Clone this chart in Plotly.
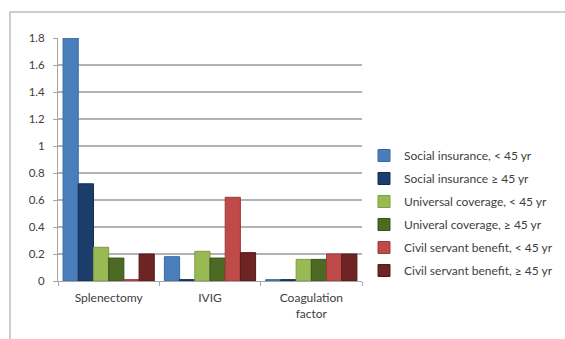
import plotly.graph_objects as go

categories = ["Splenectomy", "IVIG", "Coagulation<br>factor"]
series_names = [
    "Social insurance, < 45 yr",
    "Social insurance ≥ 45 yr",
    "Universal coverage, < 45 yr",
    "Univeral coverage, ≥ 45 yr",
    "Civil servant benefit, < 45 yr",
    "Civil servant benefit, ≥ 45 yr",
]
social_lt45 = [1.80, 0.18, 0.01]
social_ge45 = [0.72, 0.01, 0.01]
universal_lt45 = [0.25, 0.22, 0.16]
universal_ge45 = [0.17, 0.17, 0.16]
civil_lt45 = [0.01, 0.62, 0.20]
civil_ge45 = [0.20, 0.21, 0.20]
y_ticks = [0, 0.2, 0.4, 0.6, 0.8, 1, 1.2, 1.4, 1.6, 1.8]

series_values = [social_lt45, social_ge45, universal_lt45,
                 universal_ge45, civil_lt45, civil_ge45]
colors = ["#4a7ebb", "#1c3d6a", "#98b954", "#4d6a25", "#be4b48", "#6e2423"]
edges = ["#3a6aa3", "#122c50", "#7f9c42", "#3b521b", "#9e3a38", "#541a19"]

W, H = 565, 339
L, R, T, B = 58, 203, 38, 58
pw, ph = W - L - R, H - T - B

fig = go.Figure()
for name, vals, c, e in zip(series_names, series_values, colors, edges):
    fig.add_trace(go.Bar(
        x=categories, y=vals, name=name, legendgroup=name,
        marker=dict(color=c, line=dict(color=e, width=1)),
    ))

def px_x(p):
    return (p - L) / pw

def px_y(p):
    return (H - B - p) / ph

fig.update_layout(
    width=W, height=H,
    margin=dict(l=L, r=R, t=T, b=B, autoexpand=False),
    paper_bgcolor="white", plot_bgcolor="white",
    font=dict(family="Lato, 'Open Sans', sans-serif", size=11, color="#404040"),
    barmode="group", bargap=0.1, bargroupgap=0.0,
    showlegend=True,
    legend=dict(
        x=px_x(364), xanchor="left", y=px_y(213), yanchor="middle",
        font=dict(size=12, color="#404040"),
        tracegroupgap=4, itemwidth=30,
        bgcolor="rgba(0,0,0,0)",
    ),
    xaxis=dict(
        showgrid=False, showline=True, linecolor="#a6a6a6", linewidth=1,
        ticks="outside", ticklen=4, tickcolor="#a6a6a6", tickson="boundaries",
        ticklabelstandoff=6,
        tickfont=dict(size=12, color="#404040"),
    ),
    yaxis=dict(
        range=[0, 1.8], tickvals=y_ticks,
        ticktext=[f"{v:g}" for v in y_ticks],
        showgrid=True, gridcolor="#b3b3b3", gridwidth=1.5,
        showline=True, linecolor="#a6a6a6", linewidth=1,
        ticks="outside", ticklen=4, tickcolor="#a6a6a6",
        ticklabelstandoff=6,
        zeroline=False, tickfont=dict(size=11.5, color="#404040"),
    ),
    shapes=[dict(
        type="rect", xref="paper", yref="paper",
        x0=px_x(10), x1=px_x(600), y0=px_y(360), y1=px_y(12),
        line=dict(color="#bfbfbf", width=1.5), fillcolor="rgba(0,0,0,0)",
        layer="below",
    )],
)

fig.write_html("out.html")
